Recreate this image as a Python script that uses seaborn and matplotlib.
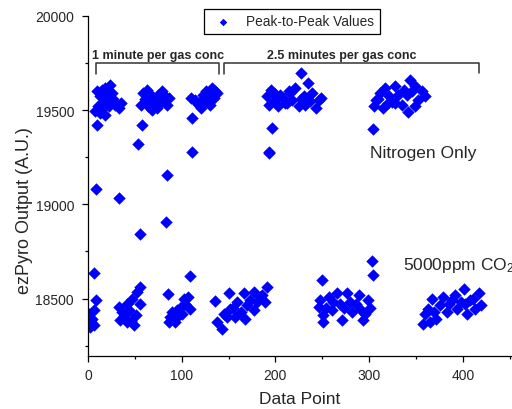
import matplotlib
matplotlib.use('agg')
import numpy as np
import pandas as pd
import seaborn as sns
from matplotlib import pyplot as plt

# --- data (data point index, peak-to-peak value) ---
# nitrogen-only plateaus
n2_x = [
    8, 11, 13, 13, 15, 17, 18, 18, 22, 24, 26, 29, 33, 35, 20, 10, 14, 27,
    57, 59, 63, 66, 68, 68, 71, 74, 77, 79, 82, 84, 86, 61, 75, 64, 80,
    110, 114, 118, 121, 123, 125, 126, 129, 132, 134, 138, 116, 130, 120, 136,
    191, 193, 195, 200, 203, 205, 208, 212, 214, 218, 221, 225, 230, 232, 235, 239, 243, 246, 249, 198, 227, 210, 216, 237,
    305, 307, 312, 315, 317, 321, 328, 328, 331, 335, 337, 342, 344, 349, 349, 352, 356, 360, 310, 324, 340, 320, 346,
]
n2_y = [
    19495, 19521, 19575, 19484, 19608, 19548, 19617, 19475, 19521, 19635, 19590, 19528, 19511, 19540, 19580, 19600, 19500, 19560,
    19528, 19590, 19608, 19548, 19501, 19573, 19548, 19511, 19537, 19600, 19575, 19528, 19565, 19560, 19580, 19520, 19555,
    19564, 19555, 19528, 19511, 19582, 19548, 19600, 19573, 19617, 19565, 19590, 19540, 19530, 19545, 19600,
    19573, 19528, 19608, 19555, 19520, 19582, 19565, 19537, 19600, 19555, 19617, 19520, 19573, 19528, 19644, 19590, 19511, 19555, 19565, 19590, 19560, 19540, 19590, 19550,
    19520, 19555, 19590, 19511, 19617, 19573, 19626, 19540, 19582, 19530, 19608, 19493, 19661, 19626, 19520, 19555, 19600, 19573, 19560, 19545, 19580, 19540, 19600,
]

# 5000 ppm CO2 plateaus
co2_x = [
    1, 2, 3, 4, 6, 6, 9, 1,
    33, 34, 36, 38, 42, 42, 44, 47, 49, 51, 52, 56, 55, 40, 46,
    86, 90, 91, 93, 95, 97, 99, 102, 104, 107, 109, 100, 88,
    136, 138, 143, 145, 150, 152, 157, 159, 163, 166, 168, 170, 173, 177, 177, 180, 184, 189, 191, 148, 155, 186,
    246, 248, 251, 251, 257, 260, 262, 266, 269, 271, 276, 280, 282, 286, 289, 291, 294, 299, 301, 254, 273, 296,
    358, 360, 363, 365, 367, 371, 376, 379, 383, 388, 392, 394, 402, 404, 411, 413, 417, 419, 369, 385, 398, 408,
]
co2_y = [
    18420, 18351, 18375, 18394, 18438, 18358, 18491, 18390,
    18456, 18385, 18429, 18405, 18376, 18473, 18440, 18500, 18358, 18411, 18535, 18473, 18562, 18420, 18380,
    18376, 18429, 18394, 18376, 18440, 18411, 18456, 18500, 18473, 18509, 18447, 18420, 18400,
    18488, 18376, 18340, 18420, 18527, 18447, 18403, 18482, 18430, 18527, 18394, 18464, 18490, 18535, 18438, 18482, 18509, 18482, 18562, 18400, 18450, 18520,
    18456, 18491, 18411, 18376, 18509, 18438, 18480, 18527, 18473, 18385, 18527, 18482, 18429, 18470, 18518, 18438, 18385, 18491, 18450, 18450, 18450, 18420,
    18367, 18420, 18447, 18375, 18500, 18394, 18464, 18509, 18429, 18491, 18518, 18447, 18473, 18420, 18500, 18447, 18527, 18464, 18430, 18470, 18480, 18490,
]

# switching transients between the two states
trans_x = [6, 9, 10, 33, 53, 56, 58, 83, 84, 85, 109, 111, 111, 193, 193, 196, 227, 250, 303, 304, 304, 401]
trans_y = [18634, 19082, 19419, 19034, 19322, 18842, 19419, 18906, 19157, 18523, 18618, 19280, 19461,
           19280, 19274, 19408, 19700, 18597, 18700, 18624, 19399, 18553]

df = pd.DataFrame({
    'point': n2_x + co2_x + trans_x,
    'value': n2_y + co2_y + trans_y,
})

sns.set_theme(style='ticks')
plt.rcParams['font.family'] = ['Liberation Sans', 'DejaVu Sans']
plt.rcParams['mathtext.fontset'] = 'custom'
plt.rcParams['mathtext.rm'] = 'Liberation Sans'
plt.rcParams['mathtext.it'] = 'Liberation Sans:italic'

fig = plt.figure(figsize=(5.12, 4.10), dpi=100)
ax = fig.add_axes([88 / 512, 53 / 410, 424 / 512, 340 / 410])

sns.scatterplot(data=df, x='point', y='value', marker='D', color='#0000ff',
                s=40, linewidth=0, label='Peak-to-Peak Values', ax=ax)

ax.set_xlim(0, 452.5)
ax.set_ylim(18195, 20000)
ax.set_xticks([0, 100, 200, 300, 400])
ax.set_xticks(np.arange(50, 451, 100), minor=True)
ax.set_yticks([18500, 19000, 19500, 20000])
ax.set_yticks([18250, 18750, 19250, 19750], minor=True)
ax.tick_params(which='major', direction='out', length=4, width=0.9, labelsize=10, color='black', pad=5)
ax.tick_params(which='minor', direction='out', length=2.5, width=0.9, color='black')
ax.tick_params(axis='y', pad=6)

sns.despine(ax=ax)
for side in ['left', 'bottom']:
    ax.spines[side].set_color('black')
    ax.spines[side].set_linewidth(0.9)

ax.set_xlabel('Data Point', fontsize=12.5, labelpad=6)
ax.set_ylabel('ezPyro Output (A.U.)', fontsize=13)
ax.yaxis.set_label_coords(-0.13, 0.43)

# brackets marking the gas exchange regimes
bracket_color = '#333333'
ax.plot([8.9, 8.9, 140, 140], [19692, 19750, 19750, 19692], color=bracket_color, lw=1.1, clip_on=False)
ax.plot([145.4, 145.4, 417.4, 417.4], [19692, 19750, 19750, 19700], color=bracket_color, lw=1.1, clip_on=False)
ax.text(75, 19795, '1 minute per gas conc', ha='center', va='center', fontsize=9, fontweight='bold')
ax.text(271, 19795, '2.5 minutes per gas conc', ha='center', va='center', fontsize=9, fontweight='bold')

ax.text(301, 19274, 'Nitrogen Only', ha='left', va='center', fontsize=12.5)
ax.text(336, 18680, '5000ppm CO$_2$', ha='left', va='center', fontsize=12.5)

leg = ax.legend(loc='upper left', bbox_to_anchor=(204 / 512, 1 - 10 / 410),
                bbox_transform=fig.transFigure, borderaxespad=0, fancybox=False,
                edgecolor='black', fontsize=9.8, markerscale=0.6,
                handletextpad=0.7, borderpad=0.4, framealpha=1)
leg.get_frame().set_linewidth(0.9)

fig.savefig('out.png', dpi=100)
